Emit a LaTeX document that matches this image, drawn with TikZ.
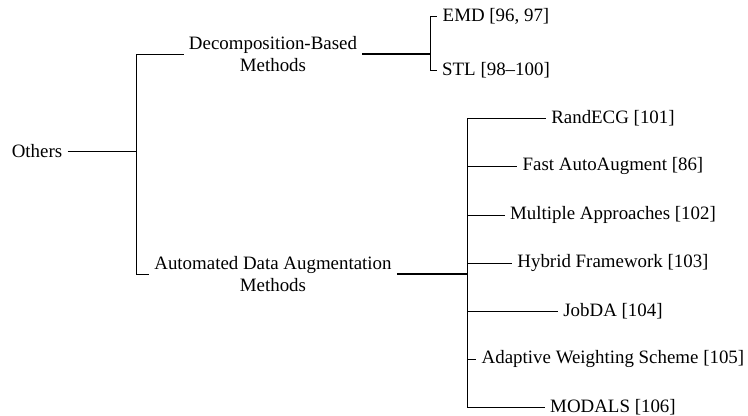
\documentclass[tikz,border=0pt]{standalone}
\usepackage{fontspec}
\setmainfont{Liberation Serif}
\usepackage{tikz}

\begin{document}
\begin{tikzpicture}[
        lbl/.style={inner sep=2.5pt, align=center, font=\fontsize{9.45}{11}\selectfont},
        link/.style={line width=0.45pt},
        trunk/.style={line width=0.9pt}
    ]
            \useasboundingbox (0,0) rectangle (13.145,-7.31);

            % forks
            \coordinate (f1) at (2.39,0);
            \coordinate (f2) at (7.556,0);
            \coordinate (f3) at (8.207,0);

            \node[lbl] (others) at (0.65,-2.653) {Others};

            \node[lbl] (decomp) at (4.797,-0.949) {Decomposition-Based\\Methods};
            \node[lbl] (auto) at (4.797,-4.815) {Automated Data Augmentation\\Methods};

            \node[lbl] (emd) at (8.716,-0.281) {EMD [96, 97]};
            \node[lbl] (stl) at (8.716,-1.23) {STL [98--100]};

            \node[lbl] (randecg) at (10.772,-2.074) {RandECG [101]};
            \node[lbl] (fastaa) at (10.772,-2.917) {Fast AutoAugment [86]};
            \node[lbl] (multi) at (10.772,-3.778) {Multiple Approaches [102]};
            \node[lbl] (hybrid) at (10.772,-4.622) {Hybrid Framework [103]};
            \node[lbl] (jobda) at (10.772,-5.465) {JobDA [104]};
            \node[lbl] (adaptive) at (10.772,-6.309) {Adaptive Weighting Scheme [105]};
            \node[lbl] (modals) at (10.772,-7.152) {MODALS [106]};

            \draw[link] (others.east) -- (others.east -| f1) |- (decomp.west);
            \draw[link] (others.east -| f1) |- (auto.west);

            \draw[trunk] (decomp.east) -- (decomp.east -| f2);
            \foreach \leaf in {emd,stl}
                \draw[link] (decomp.east -| f2) |- (\leaf.west);

            \draw[trunk] (auto.east) -- (auto.east -| f3);
            \foreach \leaf in {randecg,fastaa,multi,hybrid,jobda,adaptive,modals}
                \draw[link] (auto.east -| f3) |- (\leaf.west);
        \end{tikzpicture}
\end{document}
